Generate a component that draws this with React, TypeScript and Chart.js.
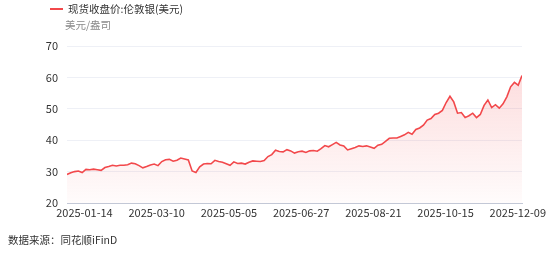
import React, { useEffect, useRef } from "react";
import { Chart, registerables } from "chart.js";

Chart.register(...registerables);

const seriesName = "现货收盘价:伦敦银(美元)";
const unitLabel = "美元/盎司";
const sourceText = "数据来源：同花顺iFinD";

const silverPrices: number[] = [
  29.1, 29.6, 30.0, 30.2, 29.7, 30.7, 30.6, 30.8, 30.6, 30.4,
  31.3, 31.6, 32.0, 31.8, 32.0, 32.0, 32.2, 32.7, 32.5, 31.9,
  31.2, 31.6, 32.1, 32.4, 31.9, 33.2, 33.8, 33.9, 33.3, 33.6,
  34.3, 34.0, 33.7, 30.2, 29.7, 31.5, 32.4, 32.6, 32.5, 33.6,
  33.2, 33.0, 32.5, 32.0, 33.1, 32.6, 32.7, 32.4, 33.0, 33.4,
  33.3, 33.2, 33.5, 34.8, 35.4, 36.8, 36.4, 36.3, 37.0, 36.6,
  35.9, 36.3, 36.5, 36.1, 36.6, 36.7, 36.5, 37.3, 38.3, 37.9,
  38.6, 39.3, 38.5, 38.2, 36.9, 37.3, 37.7, 38.2, 38.0, 38.2,
  37.8, 37.4, 38.4, 38.7, 39.6, 40.6, 40.7, 40.7, 41.2, 41.7,
  42.5, 41.9, 43.4, 43.9, 44.8, 46.4, 46.9, 48.2, 48.6, 49.5,
  52.0, 54.0, 52.2, 48.6, 48.8, 47.2, 47.8, 48.6, 47.2, 48.2,
  51.1, 52.8, 50.4, 51.3, 50.2, 51.6, 53.8, 57.0, 58.4, 57.5,
  60.6,
];

const xTickLabels = [
  "2025-01-14",
  "2025-03-10",
  "2025-05-05",
  "2025-06-27",
  "2025-08-21",
  "2025-10-15",
  "2025-12-09",
];
const xTickPositions = [4.6, 23.65, 42.7, 61.75, 80.8, 99.85, 118.9];

const yMin = 20;
const yMax = 70;
const yStep = 10;

const CJK = '"Noto Sans CJK SC", "Microsoft YaHei", sans-serif';

export default function App() {
  const canvasRef = useRef<HTMLCanvasElement | null>(null);

  useEffect(() => {
    const canvas = canvasRef.current;
    if (!canvas) return;
    const ctx = canvas.getContext("2d")!;
    const chart = new Chart(ctx, {
      type: "line",
      data: {
        datasets: [
          {
            label: seriesName,
            data: silverPrices.map((v, i) => ({ x: i, y: v })),
            borderColor: "#f2484b",
            borderWidth: 1.6,
            pointRadius: 0,
            tension: 0,
            fill: "start",
            backgroundColor: (c: any) => {
              const area = c.chart.chartArea;
              if (!area) return "rgba(242,72,75,0.1)";
              const g = c.chart.ctx.createLinearGradient(0, area.top, 0, area.bottom);
              g.addColorStop(0, "rgba(242,72,75,0.22)");
              g.addColorStop(1, "rgba(242,72,75,0.02)");
              return g;
            },
          },
        ],
      },
      options: {
        responsive: false,
        animation: false,
        devicePixelRatio: 1,
        layout: { padding: { left: 0, top: 46, right: 32, bottom: 0 } },
        plugins: {
          legend: { display: false },
          tooltip: { enabled: false },
        },
        scales: {
          x: {
            type: "linear",
            min: 0,
            max: silverPrices.length - 1,
            grid: { display: false, drawTicks: false },
            border: { display: true, color: "#c3c8d6", width: 1 },
            afterBuildTicks: (scale: any) => {
              scale.ticks = xTickPositions.map((v) => ({ value: v }));
            },
            afterFit: (scale: any) => {
              scale.height = 56;
            },
            ticks: {
              autoSkip: false,
              maxRotation: 0,
              padding: 3,
              color: "#333",
              font: { family: CJK, size: 11 },
              callback: (_v: any, i: number) => xTickLabels[i],
            },
          },
          y: {
            min: yMin,
            max: yMax,
            grid: { color: "#eef0f6", drawTicks: false, lineWidth: 1 },
            border: { display: false },
            afterFit: (scale: any) => {
              scale.width = 67;
            },
            ticks: {
              stepSize: yStep,
              padding: 9,
              color: "#333",
              font: { family: CJK, size: 11 },
            },
          },
        },
      },
    });
    return () => chart.destroy();
  }, []);

  return (
    <div
      style={{
        position: "fixed",
        left: 0,
        top: 0,
        width: 554,
        height: 259,
        background: "#fff",
        overflow: "hidden",
        fontFamily: CJK,
      }}
    >
      <canvas
        ref={canvasRef}
        width={554}
        height={259}
        style={{ position: "absolute", left: 0, top: 0, width: 554, height: 259 }}
      />
      <div
        style={{
          position: "absolute",
          left: 50,
          top: 8,
          width: 13,
          height: 2,
          background: "#f2484b",
        }}
      />
      <div
        style={{
          position: "absolute",
          left: 68,
          top: 1,
          fontSize: 10.5,
          lineHeight: "16px",
          color: "#333",
          whiteSpace: "nowrap",
        }}
      >
        {seriesName}
      </div>
      <div
        style={{
          position: "absolute",
          left: 65,
          top: 17,
          fontSize: 10.5,
          lineHeight: "16px",
          color: "#8a8a8a",
          whiteSpace: "nowrap",
        }}
      >
        {unitLabel}
      </div>
      <div
        style={{
          position: "absolute",
          left: 8,
          top: 232,
          fontSize: 10.5,
          lineHeight: "16px",
          color: "#333",
          whiteSpace: "nowrap",
        }}
      >
        {sourceText}
      </div>
    </div>
  );
}
